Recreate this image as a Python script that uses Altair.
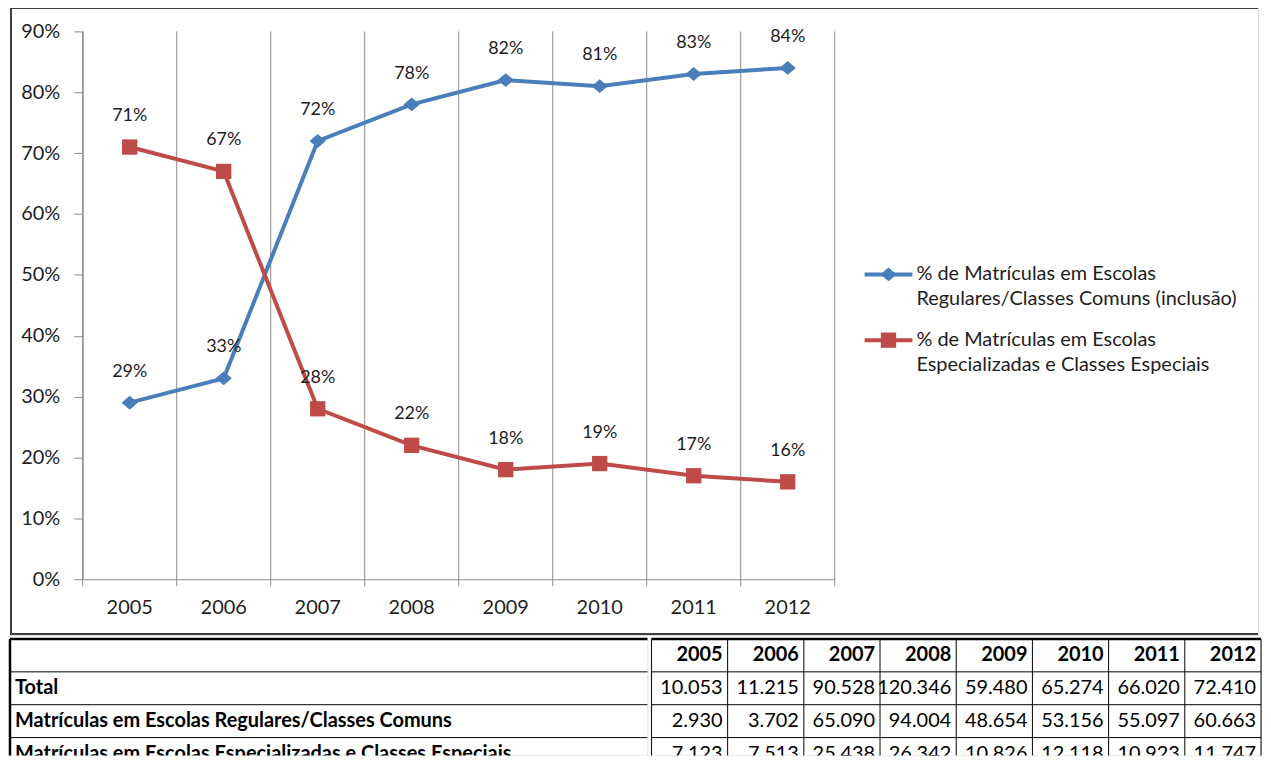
import json
import altair as alt
import pandas as pd

# ---------------- data ----------------
years = ["2005", "2006", "2007", "2008", "2009", "2010", "2011", "2012"]
serie_keys = ["reg", "esp"]
serie_reg = "% de Matrículas em Escolas Regulares/Classes Comuns (inclusão)"
serie_esp = "% de Matrículas em Escolas Especializadas e Classes Especiais"
series = [serie_reg, serie_esp]
legend_lines = [
    ["% de Matrículas em Escolas", "Regulares/Classes Comuns (inclusão)"],
    ["% de Matrículas em Escolas", "Especializadas e Classes Especiais"],
]
pct_reg = [29, 33, 72, 78, 82, 81, 83, 84]
pct_esp = [71, 67, 28, 22, 18, 19, 17, 16]
y_ticks = [0, 10, 20, 30, 40, 50, 60, 70, 80, 90]

row_keys = ["header", "total", "reg", "esp"]
row_labels = ["", "Total",
              "Matrículas em Escolas Regulares/Classes Comuns",
              "Matrículas em Escolas Especializadas e Classes Especiais"]
total = [10053, 11215, 90528, 120346, 59480, 65274, 66020, 72410]
reg = [2930, 3702, 65090, 94004, 48654, 53156, 55097, 60663]
esp = [7123, 7513, 25438, 26342, 10826, 12118, 10923, 11747]

# ---------------- styles / layout ----------------
BLUE = "#4A7EBB"
RED = "#BE4B48"
GRID = "#8C8C8C"
TXT = "#1E1E1E"
FONT = "Lato"

TOP_W, TOP_H = 1253, 631        # framed chart area
PLOT_X0, PLOT_X1 = 73, 828      # plot area inside the frame
PLOT_Y0, PLOT_Y1 = 575, 25
TICK_BELOW = -1.15              # gridlines run ~7px below the axis, as Excel's tick marks
YEAR_LABEL_AT = -4.75           # year labels sit ~28px under the axis

lines_df = pd.DataFrame(
    [{"ano": y, "serie": serie_reg, "chave": serie_keys[0], "pct": v} for y, v in zip(years, pct_reg)]
    + [{"ano": y, "serie": serie_esp, "chave": serie_keys[1], "pct": v} for y, v in zip(years, pct_esp)]
)
years_df = pd.DataFrame({"ano": years})

label_expr = (
    f"(datum.value === {json.dumps(serie_keys[0])} || datum.value === {json.dumps(series[0], ensure_ascii=False)}) ? "
    f"{json.dumps(legend_lines[0], ensure_ascii=False)} : "
    f"{json.dumps(legend_lines[1], ensure_ascii=False)}"
)

SYM = 2304  # symbol size: 48px legend line; markers drawn small inside the unit box
path_diamond = "M0,-0.29L0.34,0L0,0.29L-0.34,0Z"
path_square = "M-0.32,-0.32H0.32V0.32H-0.32Z"

LEG_X, LEG_Y, LEG_ROWPAD = 856, 243, 5
leg_common = dict(
    title=None, orient="none", legendX=LEG_X, legendY=LEG_Y, symbolSize=SYM,
    labelExpr=label_expr, labelFont=FONT, labelFontSize=20, labelColor=TXT,
    labelLimit=600, labelOffset=2, rowPadding=LEG_ROWPAD, padding=0,
    symbolStrokeWidth=4,
)
leg_line = alt.Legend(symbolType="stroke", **leg_common)
leg_mark = alt.Legend(symbolOpacity=1, symbolStrokeColor="transparent", labelOpacity=0, **leg_common)

x_scale = alt.Scale(type="band", domain=years, paddingInner=0, paddingOuter=0,
                    range=[PLOT_X0, PLOT_X1])
y_scale = alt.Scale(domain=[0, 90], nice=False, range=[PLOT_Y0, PLOT_Y1])

x_enc = alt.X(
    "ano:O", scale=x_scale, bandPosition=0.5,
    axis=alt.Axis(title=None, grid=False, labels=False, ticks=False,
                  offset=-(TOP_H - PLOT_Y0), domainColor=GRID),
)
y_enc = alt.Y(
    "pct:Q", scale=y_scale,
    axis=alt.Axis(
        title=None, values=y_ticks, labelExpr="datum.value + '%'", grid=False,
        offset=-PLOT_X0, tickSize=9, labelPadding=14, domainColor=GRID, tickColor=GRID,
        labelFont=FONT, labelFontSize=20, labelColor=TXT,
    ),
)

# vertical gridlines on category boundaries (extending below the axis as tick marks)
grid_start = alt.Chart(years_df).mark_rule(color=GRID, strokeWidth=1).encode(
    x=alt.X("ano:O", scale=x_scale, bandPosition=0),
    y=alt.Y(datum=90, scale=y_scale), y2=alt.Y2(datum=TICK_BELOW),
)
grid_end = alt.Chart(years_df).transform_filter(alt.datum.ano == years[-1]).mark_rule(
    color=GRID, strokeWidth=1).encode(
    x=alt.X("ano:O", scale=x_scale, bandPosition=1),
    y=alt.Y(datum=90, scale=y_scale), y2=alt.Y2(datum=TICK_BELOW),
)
year_labels = alt.Chart(years_df).mark_text(
    font=FONT, fontSize=20, color=TXT, baseline="middle", align="center").encode(
    x=alt.X("ano:O", scale=x_scale, bandPosition=0.5),
    y=alt.Y(datum=YEAR_LABEL_AT, scale=y_scale),
    text="ano:N",
)

base = alt.Chart(lines_df)
line_layer = base.mark_line(strokeWidth=4).encode(
    x=x_enc, y=y_enc,
    stroke=alt.Stroke("chave:N", scale=alt.Scale(domain=serie_keys, range=[BLUE, RED]), legend=leg_line),
)
point_layer = base.mark_point(filled=True, opacity=1, size=SYM, strokeWidth=0).encode(
    x=x_enc, y=y_enc,
    color=alt.Color("serie:N", scale=alt.Scale(domain=series, range=[BLUE, RED]), legend=leg_mark),
    shape=alt.Shape("serie:N", scale=alt.Scale(domain=series, range=[path_diamond, path_square]),
                    legend=leg_mark),
)
text_layer = base.transform_calculate(rotulo="datum.pct + '%'").mark_text(
    dy=-31, font=FONT, fontSize=18, color=TXT, baseline="middle",
).encode(x=x_enc, y=y_enc, text="rotulo:N")

frame_data = alt.Data(values=[{}])
frame_left = alt.Chart(frame_data).mark_rule(color="#404040", strokeWidth=2).encode(x=alt.value(1))
frame_top = alt.Chart(frame_data).mark_rule(color="#404040", strokeWidth=2.5).encode(y=alt.value(1.25))
frame_bottom = alt.Chart(frame_data).mark_rule(color="#404040", strokeWidth=2).encode(y=alt.value(TOP_H - 1))

top = alt.layer(
    grid_start, grid_end, year_labels, line_layer, point_layer, text_layer,
    frame_left, frame_top, frame_bottom
).properties(width=TOP_W, height=TOP_H)

# ---------------- table ----------------
ROW_H = 33
TAB_H = 117
LAB_W = 640
COL_W = 76.5
row_scale = alt.Scale(domain=row_keys, range=[0, ROW_H * len(row_keys)], paddingInner=0, paddingOuter=0)

lab_df = pd.DataFrame({"linha": row_keys, "texto": row_labels, "col": ["rotulo"] * len(row_keys)})
num_rows = []
for y in years:
    num_rows.append({"linha": "header", "ano": y, "valor": None, "cab": y})
for key, vals in (("total", total), ("reg", reg), ("esp", esp)):
    for y, v in zip(years, vals):
        num_rows.append({"linha": key, "ano": y, "valor": v, "cab": ""})
num_df = pd.DataFrame(num_rows)

row_y_mid = alt.Y("linha:N", scale=row_scale, axis=None, bandPosition=0.5)
row_y_top = alt.Y("linha:N", scale=row_scale, axis=None, bandPosition=0)
row_width = alt.condition(alt.datum.linha == "header", alt.value(2.5), alt.value(1))

lab_scale = alt.Scale(domain=["rotulo"], paddingInner=0, paddingOuter=0)
lab_base = alt.Chart(lab_df)
lab_text = lab_base.mark_text(align="left", baseline="middle", dx=5, font=FONT, fontSize=20,
                              fontWeight="bold", color="#000000", clip=True).encode(
    x=alt.X("col:N", scale=lab_scale, bandPosition=0, axis=None),
    y=row_y_mid, text="texto:N",
)
lab_hrules = lab_base.mark_rule(color="#000000").encode(y=row_y_top, strokeWidth=row_width)
lab_left = lab_base.transform_filter(alt.datum.linha == "header").mark_rule(
    color="#000000", strokeWidth=2.5).encode(
    x=alt.X("col:N", scale=lab_scale, bandPosition=0, axis=None))
lab_panel = alt.layer(lab_text, lab_hrules, lab_left).properties(width=LAB_W, height=TAB_H)

num_scale = alt.Scale(domain=years, paddingInner=0, paddingOuter=0)
num_x = alt.X("ano:O", scale=num_scale, bandPosition=1, axis=None)
num_base = alt.Chart(num_df)
num_head = num_base.transform_filter(alt.datum.linha == "header").mark_text(
    align="right", baseline="middle", dx=-5, font=FONT, fontSize=20, fontWeight="bold",
    color="#000000", clip=True).encode(x=num_x, y=row_y_mid, text="cab:N")
num_body = num_base.transform_filter(alt.datum.linha != "header").transform_calculate(
    texto="replace(format(datum.valor, ','), /,/g, '.')").mark_text(
    align="right", baseline="middle", dx=-5, font=FONT, fontSize=20, color="#000000", clip=True).encode(
    x=num_x, y=row_y_mid, text="texto:N")
num_hrules = alt.Chart(lab_df).mark_rule(color="#000000").encode(y=row_y_top, strokeWidth=row_width)
num_vrules = num_base.transform_filter(alt.datum.linha == "header").mark_rule(
    color="#000000", strokeWidth=1).encode(
    x=alt.X("ano:O", scale=num_scale, bandPosition=0, axis=None))
num_vlast = num_base.transform_filter(
    (alt.datum.linha == "header") & (alt.datum.ano == years[-1])).mark_rule(
    color="#000000", strokeWidth=1).encode(
    x=alt.X("ano:O", scale=num_scale, bandPosition=1, axis=None))
num_panel = alt.layer(num_head, num_body, num_hrules, num_vrules, num_vlast).properties(
    width=COL_W * len(years), height=TAB_H)

table = alt.hconcat(lab_panel, num_panel, spacing=0)

chart = alt.vconcat(top, table, spacing=0).properties(
    padding={"left": 0, "right": 0, "top": -5, "bottom": -3}
).configure_view(strokeWidth=0).configure(style={"guide-label": {"lineHeight": 25}})

chart.save("out.html", embed_options={"renderer": "svg", "actions": False})
